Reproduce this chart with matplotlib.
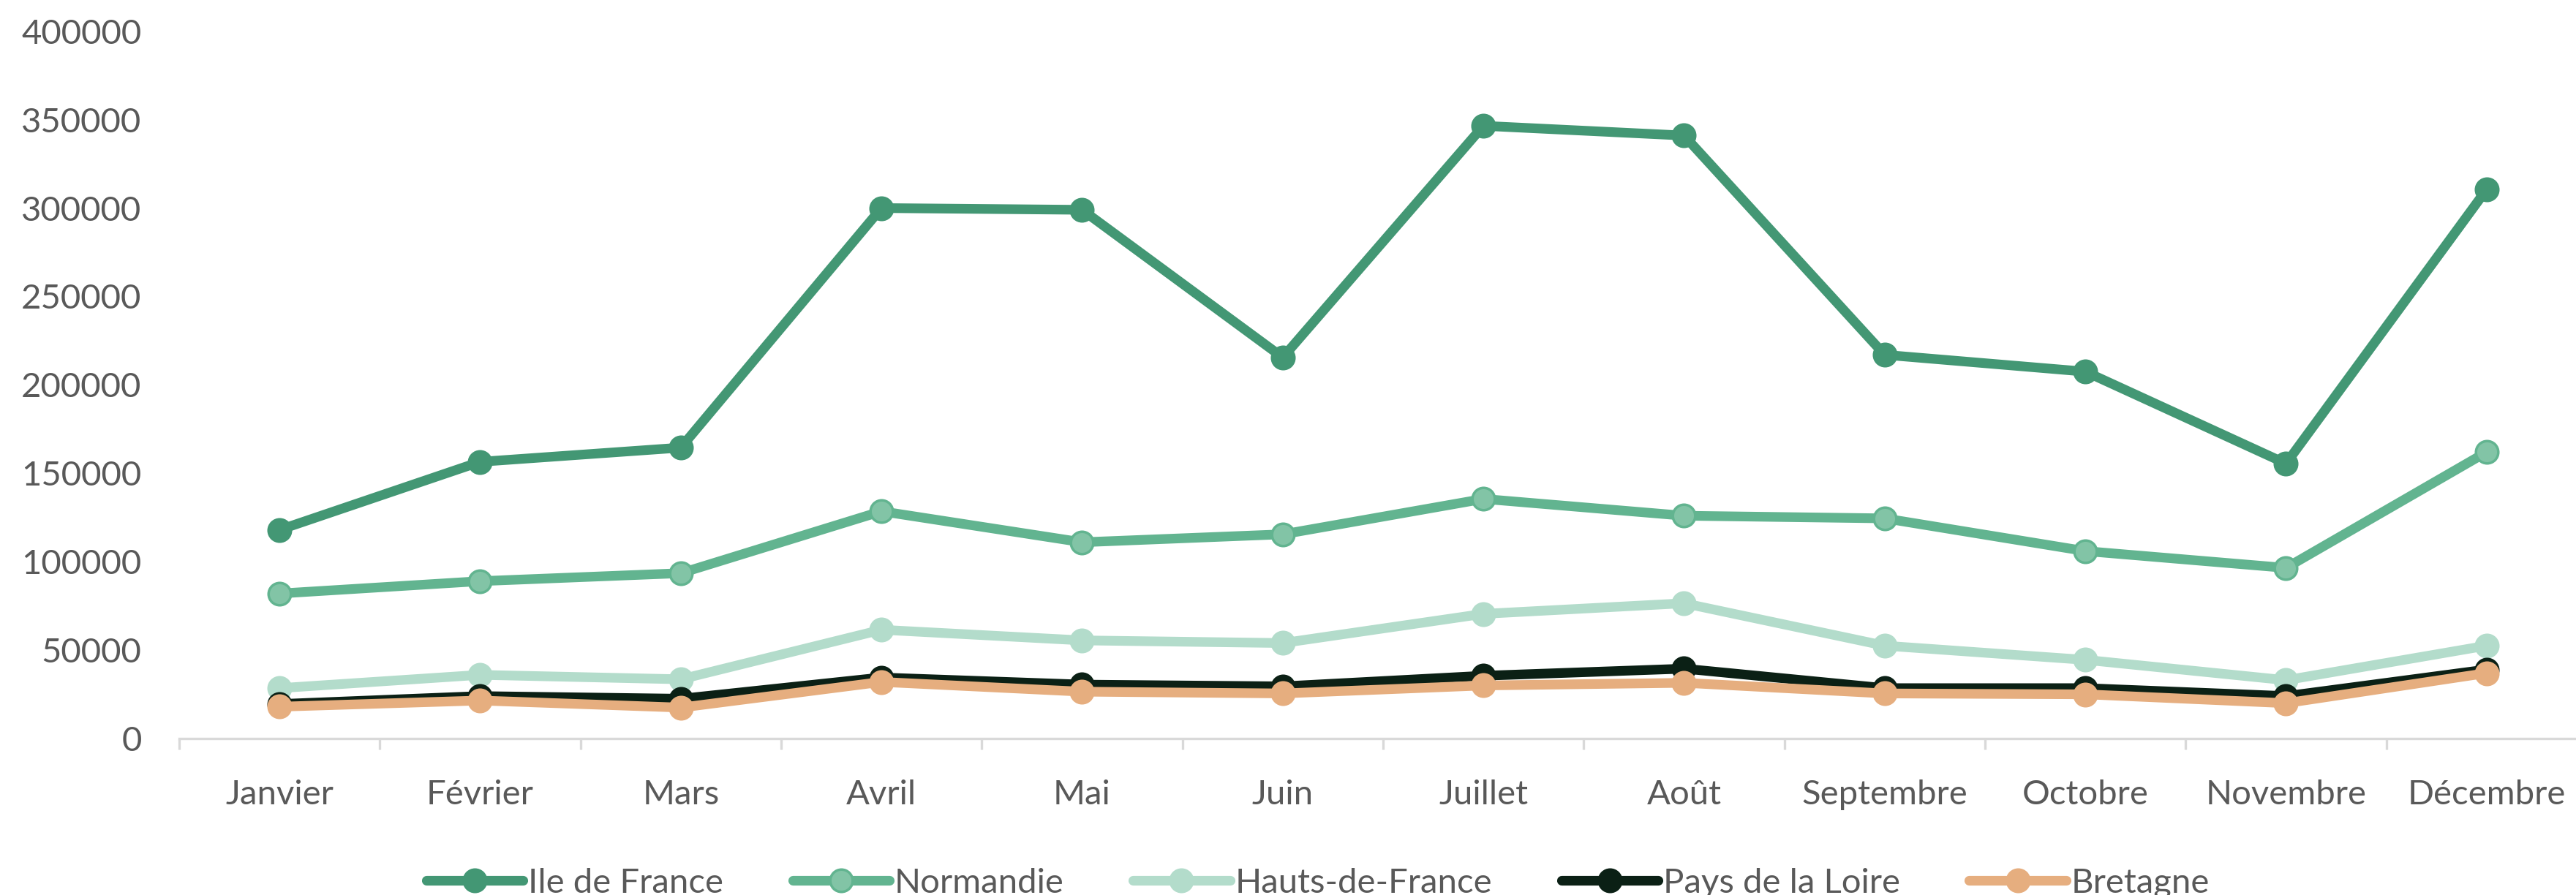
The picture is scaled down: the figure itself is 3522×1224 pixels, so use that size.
import matplotlib
matplotlib.use("Agg")
import matplotlib.pyplot as plt

plt.rcParams["font.family"] = ["Lato", "DejaVu Sans"]

mois = ["Janvier", "Février", "Mars", "Avril", "Mai", "Juin",
        "Juillet", "Août", "Septembre", "Octobre", "Novembre", "Décembre"]

ile_de_france = [118000, 156500, 164500, 300000, 299000, 215500,
                 346500, 341000, 217000, 207500, 155500, 310500]
normandie = [82000, 89000, 93500, 128500, 111000, 115500,
             135500, 126000, 124500, 106000, 96500, 162000]
hauts_de_france = [28500, 36000, 33500, 61500, 55500, 54000,
                   70500, 76500, 52500, 44500, 33000, 52500]
pays_de_la_loire = [19500, 24000, 22500, 34500, 30500, 29500,
                    35500, 39500, 28500, 28500, 24000, 39000]
bretagne = [18000, 21500, 17500, 32000, 26500, 25500,
            30000, 31500, 25500, 25000, 20000, 37000]

series = [
    ("Ile de France", ile_de_france, "#439774", "#439774", "#439774"),
    ("Normandie", normandie, "#62b490", "#82c4a6", "#62b490"),
    ("Hauts-de-France", hauts_de_france, "#b3dccb", "#b3dccb", "#b3dccb"),
    ("Pays de la Loire", pays_de_la_loire, "#0b2015", "#0b2015", "#0b2015"),
    ("Bretagne", bretagne, "#e6ae7f", "#e6ae7f", "#e6ae7f"),
]

W, H = 3523, 1224
fig = plt.figure(figsize=(W / 100, H / 100), dpi=100)
ax = fig.add_axes([245 / W, 1 - 1010 / H, 3292 / W, (1010 - 42.7) / H])

x = range(len(mois))
for name, vals, col, face, edge in series:
    ax.plot(x, vals, color=col, lw=9.5, marker="o", ms=22,
            markerfacecolor=face, markeredgecolor=edge, markeredgewidth=2.5,
            label=name, solid_joinstyle="round", solid_capstyle="round")

ax.set_xlim(-0.5, len(mois) - 0.5)
ax.set_ylim(0, 400000)
ax.set_yticks(range(0, 400001, 50000))
ax.set_yticklabels([str(v) for v in range(0, 400001, 50000)])
ax.set_xticks(list(x))
ax.set_xticklabels(mois)
ax.set_xticks([i + 0.5 for i in range(-1, len(mois))], minor=True)

for s in ["top", "right", "left"]:
    ax.spines[s].set_visible(False)
ax.spines["bottom"].set_color("#d9d9d9")
ax.spines["bottom"].set_linewidth(2.4)
ax.spines["bottom"].set_zorder(0)

ax.tick_params(axis="y", length=0, pad=37, labelsize=34, labelcolor="#595959")
ax.tick_params(axis="x", which="major", length=0, pad=40, labelsize=34,
               labelcolor="#595959")
ax.tick_params(axis="x", which="minor", length=11, width=2.4, color="#d9d9d9")

fig.legend(loc="center", bbox_to_anchor=(1802 / W, 1 - 1208 / H), ncol=5,
           frameon=False, fontsize=34, labelcolor="#595959",
           handlelength=2.8, handletextpad=0.15, columnspacing=2.0)

fig.savefig("out.png", dpi=100)
